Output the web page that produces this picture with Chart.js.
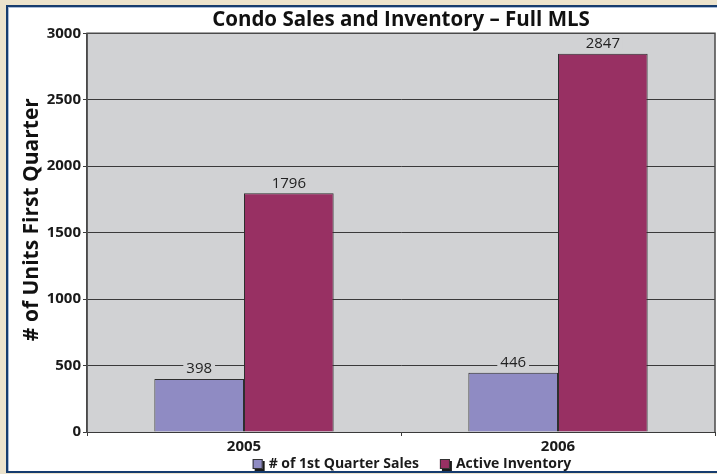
<!DOCTYPE html>
<html>
<head>
<meta charset="utf-8">
<script src="https://cdn.jsdelivr.net/npm/chart.js@4/dist/chart.umd.min.js"></script>
<style>
    html, body { margin: 0; padding: 0; overflow: hidden; }
    body { width: 717px; height: 474px; background: #ece3cc; position: relative; }
    #panel {
        position: absolute; left: 6px; top: 5px; width: 730px; height: 464px;
        background: #fff; border: 2px solid #163c6e;
        box-shadow: inset 1px 1px 0 #a9bcd8;
    }
    #chart { position: absolute; left: 0; top: 0; }
</style>
</head>
<body>
<div id="panel"></div>
<canvas id="chart" width="717" height="474"></canvas>
<script>
// data
const years = ['2005', '2006'];
const seriesNames = ['# of 1st Quarter Sales', 'Active Inventory'];
const quarterSales = [398, 446];
const activeInventory = [1796, 2847];
const yTicks = [0, 500, 1000, 1500, 2000, 2500, 3000];

const chartTitle = 'Condo Sales and Inventory \u2013 Full MLS';
const yTitle = '# of Units First Quarter';

const FONT = '"Open Sans", Lato, sans-serif';
const PLOT_BG = '#d1d2d4';
const COLORS = ['#8f8bc3', '#983063'];

// plot background + frame
const plotFrame = {
    id: 'plotFrame',
    beforeDraw(chart) {
        const a = chart.chartArea, ctx = chart.ctx;
        ctx.save();
        ctx.fillStyle = PLOT_BG;
        ctx.fillRect(a.left, a.top, a.right - a.left, a.bottom - a.top);
        ctx.restore();
    },
    afterDraw(chart) {
        const a = chart.chartArea, ctx = chart.ctx;
        ctx.save();
        ctx.strokeStyle = '#4a4a4a';
        ctx.lineWidth = 1.5;
        ctx.beginPath();
        ctx.moveTo(a.left, a.bottom);
        ctx.lineTo(a.left, a.top);
        ctx.lineTo(a.right, a.top);
        ctx.lineTo(a.right, a.bottom);
        ctx.stroke();
        ctx.restore();
    }
};

// value labels above the bars, with a patch of plot colour behind them
const barLabels = {
    id: 'barLabels',
    afterDatasetsDraw(chart) {
        const ctx = chart.ctx;
        ctx.save();
        ctx.font = '500 15px ' + FONT;
        ctx.textAlign = 'center';
        ctx.textBaseline = 'middle';
        chart.data.datasets.forEach((ds, i) => {
            chart.getDatasetMeta(i).data.forEach((bar, j) => {
                const txt = String(ds.data[j]);
                const w = ctx.measureText(txt).width;
                const y = bar.y - 11;
                ctx.fillStyle = PLOT_BG;
                ctx.fillRect(bar.x - w / 2 - 3, y - 7, w + 6, 14);
                ctx.fillStyle = '#222';
                ctx.fillText(txt, bar.x, y + 1);
            });
        });
        ctx.restore();
    }
};

// rotated y title and the legend with the little shadowed boxes
const extras = {
    id: 'extras',
    afterDraw(chart) {
        const ctx = chart.ctx, a = chart.chartArea;
        ctx.save();
        ctx.translate(32, (a.top + a.bottom) / 2 - 13);
        ctx.rotate(-Math.PI / 2);
        ctx.font = 'bold 21px ' + FONT;
        ctx.fillStyle = '#111';
        ctx.textAlign = 'center';
        ctx.textBaseline = 'middle';
        ctx.fillText(yTitle, 0, 0);
        ctx.restore();

        ctx.save();
        ctx.font = 'bold 14px ' + FONT;
        ctx.textBaseline = 'middle';
        const box = 10, gap = 6, spacing = 21;
        const widths = chart.data.datasets.map(ds => box + gap + ctx.measureText(ds.label).width);
        const total = widths.reduce((s, w) => s + w, 0) + spacing * (widths.length - 1);
        let x = (a.left + a.right) / 2 + 11 - total / 2;
        const y = 464;
        chart.data.datasets.forEach((ds, i) => {
            ctx.fillStyle = '#1a1a1a';
            ctx.fillRect(x + 2, y - box / 2 + 2, box, box);
            ctx.fillStyle = ds.backgroundColor;
            ctx.fillRect(x, y - box / 2, box, box);
            ctx.strokeStyle = '#333';
            ctx.lineWidth = 1;
            ctx.strokeRect(x + 0.5, y - box / 2 + 0.5, box - 1, box - 1);
            ctx.fillStyle = '#1a1a1a';
            ctx.fillText(ds.label, x + box + gap, y);
            x += widths[i] + spacing;
        });
        ctx.restore();
    }
};

new Chart(document.getElementById('chart'), {
    type: 'bar',
    data: {
        labels: years,
        datasets: [
            {
                label: seriesNames[0],
                data: quarterSales,
                backgroundColor: COLORS[0],
                borderColor: '#2e2e2e',
                borderWidth: 1,
            },
            {
                label: seriesNames[1],
                data: activeInventory,
                backgroundColor: COLORS[1],
                borderColor: '#2e2e2e',
                borderWidth: 1,
            },
        ],
    },
    options: {
        responsive: false,
        animation: false,
        devicePixelRatio: 1,
        categoryPercentage: 0.571,
        barPercentage: 1,
        layout: { padding: { left: 0, right: 2, top: 0, bottom: 22 } },
        plugins: {
            legend: { display: false },
            tooltip: { enabled: false },
            title: {
                display: true,
                text: chartTitle,
                fullSize: false,
                color: '#111',
                font: { family: FONT, size: 20.5, weight: 'bold', lineHeight: 1.2 },
                padding: { top: 8, bottom: 0.7 },
            },
        },
        scales: {
            x: {
                grid: {
                    display: true,
                    drawOnChartArea: false,
                    drawTicks: true,
                    tickLength: 4,
                    color: '#3a3a3a',
                },
                border: { display: true, color: '#3a3a3a', width: 1 },
                ticks: {
                    color: '#1a1a1a',
                    padding: 2,
                    font: { family: FONT, size: 15, weight: 'bold' },
                },
                afterFit(scale) { scale.height = 20; },
            },
            y: {
                min: 0,
                max: 3000,
                afterBuildTicks(scale) { scale.ticks = yTicks.map(v => ({ value: v })); },
                grid: {
                    color: '#3a3a3a',
                    lineWidth: 1,
                    tickLength: 4,
                },
                border: { display: true, color: '#4a4a4a', width: 1.5 },
                ticks: {
                    color: '#1a1a1a',
                    padding: 2,
                    font: { family: FONT, size: 15, weight: 'bold' },
                    callback: v => String(v),
                },
                afterFit(scale) { scale.width = 87; },
            },
        },
    },
    plugins: [plotFrame, barLabels, extras],
});
</script>
</body>
</html>
